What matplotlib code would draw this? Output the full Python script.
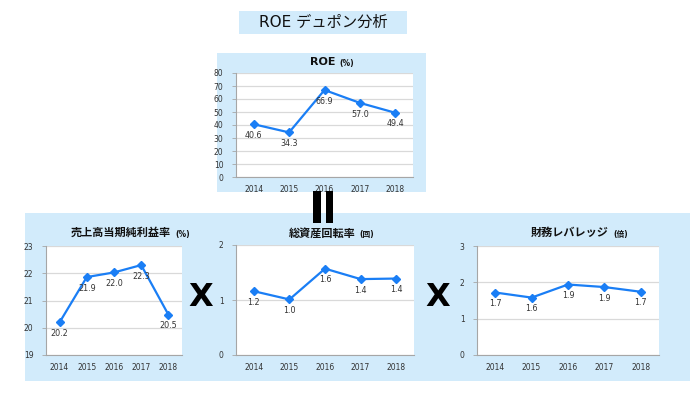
import matplotlib
matplotlib.use("Agg")
import matplotlib.pyplot as plt
from matplotlib.patches import Rectangle

plt.rcParams['font.family'] = ['DejaVu Sans', 'Noto Sans CJK JP']

# ---- data ----
years = ["2014", "2015", "2016", "2017", "2018"]
roe = [40.6, 34.3, 66.9, 57.0, 49.4]
net_margin = [20.2, 21.86, 22.03, 22.3, 20.48]
asset_turnover = [1.16, 1.01, 1.57, 1.38, 1.39]
leverage = [1.72, 1.58, 1.94, 1.87, 1.74]

main_title = "ROE デュポン分析"
titles = ["ROE", "売上高当期純利益率", "総資産回転率", "財務レバレッジ"]
units = ["(%)", "(%)", "(回)", "(倍)"]

W, H = 700, 394
fig = plt.figure(figsize=(7, 3.94), dpi=100)
fig.patch.set_facecolor("white")

PANEL = "#d2ebfb"
LINE = "#1a7ef5"
GRID = "#d9d9d9"
TXT = "#333333"


def fx(x):
    return x / W


def fy(y):
    return 1 - y / H


def rect(x0, y0, x1, y1, color, z=-5):
    fig.patches.append(Rectangle((fx(x0), fy(y1)), fx(x1) - fx(x0), fy(y0) - fy(y1),
                                 transform=fig.transFigure, facecolor=color,
                                 edgecolor="none", zorder=z))


# backgrounds
rect(239, 11, 407, 34, PANEL)
rect(217, 53, 426, 192, PANEL)
rect(25, 213, 690, 381, PANEL)

fig.text(fx(323), fy(22.5), main_title, ha="center", va="center", fontsize=11,
         color="#111111", family=['DejaVu Sans', 'Noto Sans CJK JP'], zorder=6)

# equals sign (vertical bars) and multiplication signs
rect(313, 191, 321, 223, "black", z=5)
rect(326, 191, 333, 223, "black", z=5)
for xc in (201, 438):
    fig.text(fx(xc), fy(297), "X", ha="center", va="center", fontsize=23,
             fontweight="bold", color="black", zorder=6)


def make_chart(box, values, ylim, yticks, title, unit, title_x, title_y):
    l, t, r, b = box
    ax = fig.add_axes([fx(l), fy(b), fx(r) - fx(l), fy(t) - fy(b)])
    ax.set_zorder(1)
    ax.set_facecolor("white")
    x = list(range(len(years)))
    ax.plot(x, values, color=LINE, lw=1.6, marker="D", ms=4.5, zorder=3, clip_on=False)
    for xi, v in zip(x, values):
        ax.annotate(f"{v:.1f}", (xi, v), xytext=(0, -8), textcoords="offset points",
                    ha="center", va="center", fontsize=5.8, color=TXT, zorder=4)
    ax.set_xlim(-0.5, len(years) - 0.5)
    ax.set_ylim(*ylim)
    ax.set_yticks(yticks)
    ax.set_xticks(x)
    ax.set_xticklabels(years)
    ax.grid(axis="y", color=GRID, lw=0.9)
    ax.set_axisbelow(True)
    for s in ("top", "right"):
        ax.spines[s].set_visible(False)
    for s in ("left", "bottom"):
        ax.spines[s].set_color("#a6a6a6")
        ax.spines[s].set_linewidth(0.8)
    ax.tick_params(axis="y", length=3, width=0.6, color="#a6a6a6", labelsize=5.5,
                   labelcolor=TXT, pad=6)
    ax.tick_params(axis="x", length=0, labelsize=5.5, labelcolor=TXT, pad=6)
    tt = fig.text(fx(title_x), fy(title_y), title, ha="left", va="center", fontsize=8,
                  fontweight="bold", color="#111111", zorder=6,
                  family=['DejaVu Sans', 'Noto Sans CJK JP'])
    ann = fig.text(fx(title_x), fy(title_y), unit, fontsize=5.5, fontweight="bold",
                   color="#111111", family=['DejaVu Sans', 'Noto Sans CJK JP'],
                   zorder=6, ha="left", va="center")
    return ax, tt, ann


charts = [
    make_chart((236, 73, 413, 177), roe, (0, 80), range(0, 81, 10), titles[0], units[0], 310, 62),
    make_chart((46, 246, 182, 355), net_margin, (19, 23), range(19, 24), titles[1], units[1], 71, 233),
    make_chart((236, 245, 414, 355), asset_turnover, (0, 2), range(0, 3), titles[2], units[2], 289, 233),
    make_chart((477, 246, 659, 355), leverage, (0, 3), range(0, 4), titles[3], units[3], 531, 233),
]

# place unit text just to the right of each title
fig.canvas.draw()
r = fig.canvas.get_renderer()
for ax, tt, ann in charts:
    bb = tt.get_window_extent(r)
    x_disp = bb.x1 + 4
    y_disp = (bb.y0 + bb.y1) / 2 - 1
    ann.set_position(fig.transFigure.inverted().transform((x_disp, y_disp)))

fig.savefig("out.png", dpi=100, facecolor="white")
